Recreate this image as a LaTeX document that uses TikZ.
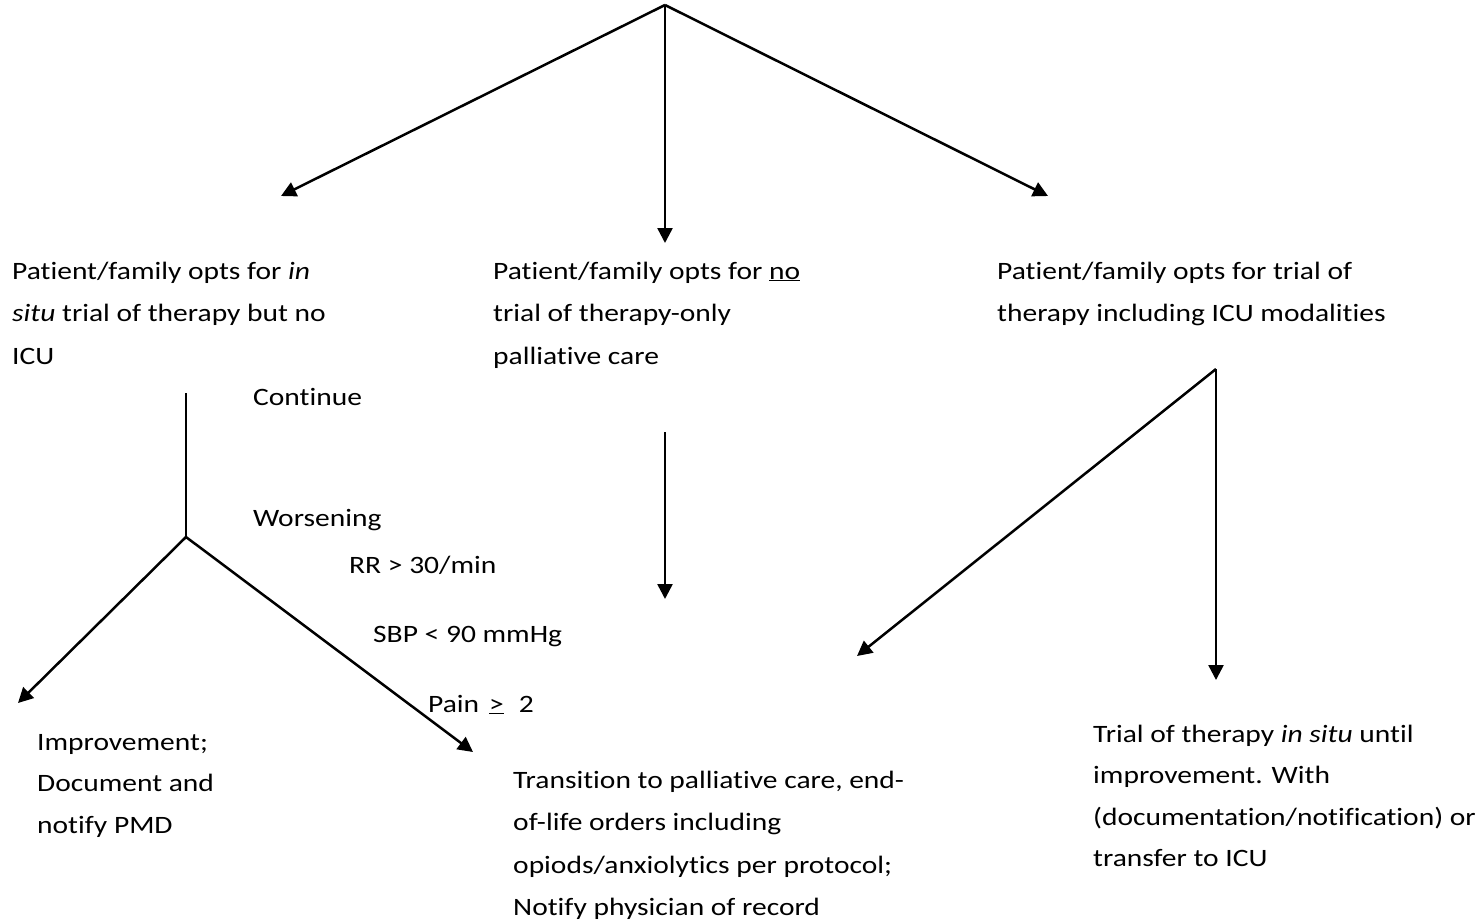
\documentclass[tikz,border=0pt]{standalone}
\usepackage{fontspec}
\setmainfont{Carlito}[FakeStretch=1.18,Ligatures=NoCommon]
\usetikzlibrary{arrows.meta}
\begin{document}
\begin{tikzpicture}[x=1pt,y=-1pt,
  conn/.style={line width=2.5pt},
  arr/.style={line width=2.5pt,-{Triangle[length=15pt,width=15pt]}},
  lbl/.style={inner sep=0pt,anchor=base west,align=left,font=\fontsize{25}{42.5}\selectfont},
  lblb/.style={inner sep=0pt,anchor=base west,align=left,font=\fontsize{25}{41.5}\selectfont}]
\useasboundingbox (0,0) rectangle (1477,919);
% coordinates
\coordinate (apex) at (665,5);
\coordinate (tipL) at (281,196);
\coordinate (tipM) at (665,243);
\coordinate (tipR) at (1048,196);
\coordinate (vtop) at (186,393);
\coordinate (branch) at (186,537);
\coordinate (tipLL) at (18,703);
\coordinate (tipLR) at (473,752);
\coordinate (mtop) at (665,432);
\coordinate (mbot) at (665,599);
\coordinate (rapex) at (1216,369);
\coordinate (tipRL) at (857,656);
\coordinate (tipRD) at (1216,680);
% connectors
\draw[arr] (apex) -- (tipL);
\draw[arr] (apex) -- (tipM);
\draw[arr] (apex) -- (tipR);
\draw[conn] (vtop) -- (branch);
\draw[arr] (branch) -- (tipLL);
\draw[arr] (branch) -- (tipLR);
\draw[arr] (mtop) -- (mbot);
\draw[arr] (rapex) -- (tipRL);
\draw[arr] (rapex) -- (tipRD);
% texts
\node[lbl] (optL) at (12,279) {\vtop{\hbox{Patient/family opts for \textit{in}}\hbox{\textit{situ} trial of therapy but no}\hbox{ICU}}};
\node[lbl] (optM) at (493,279) {\vtop{\hbox{Patient/family opts for \underline{no}}\hbox{trial of therapy-only}\hbox{palliative care}}};
\node[lbl] (optR) at (997,279) {\vtop{\hbox{Patient/family opts for trial of}\hbox{therapy including ICU modalities}}};
\node[lbl] (cont) at (253,405) {Continue};
\node[lbl] (wors) at (253,526) {Worsening};
\node[lbl] (rr) at (349,573) {RR > 30/min};
\node[lbl] (sbp) at (373,642) {SBP < 90 mmHg};
\node[lbl] (pain) at (428,712) {Pain\hspace{10pt}\underline{>}\hspace{15pt}2};
\node[lblb] (impr) at (37,750) {\vtop{\hbox{Improvement;}\hbox{Document and}\hbox{notify PMD}}};
\node[lbl] (trans) at (513,788) {\vtop{\hbox{Transition to palliative care, end-}\hbox{of-life orders including}\hbox{opiods/anxiolytics per protocol;}\hbox{Notify physician of record}}};
\node[lblb] (trial) at (1093,742) {\vtop{\hbox{Trial of therapy \textit{in situ} until}\hbox{improvement. With}\hbox{(documentation/notification) or}\hbox{transfer to ICU}}};
\end{tikzpicture}
\end{document}
